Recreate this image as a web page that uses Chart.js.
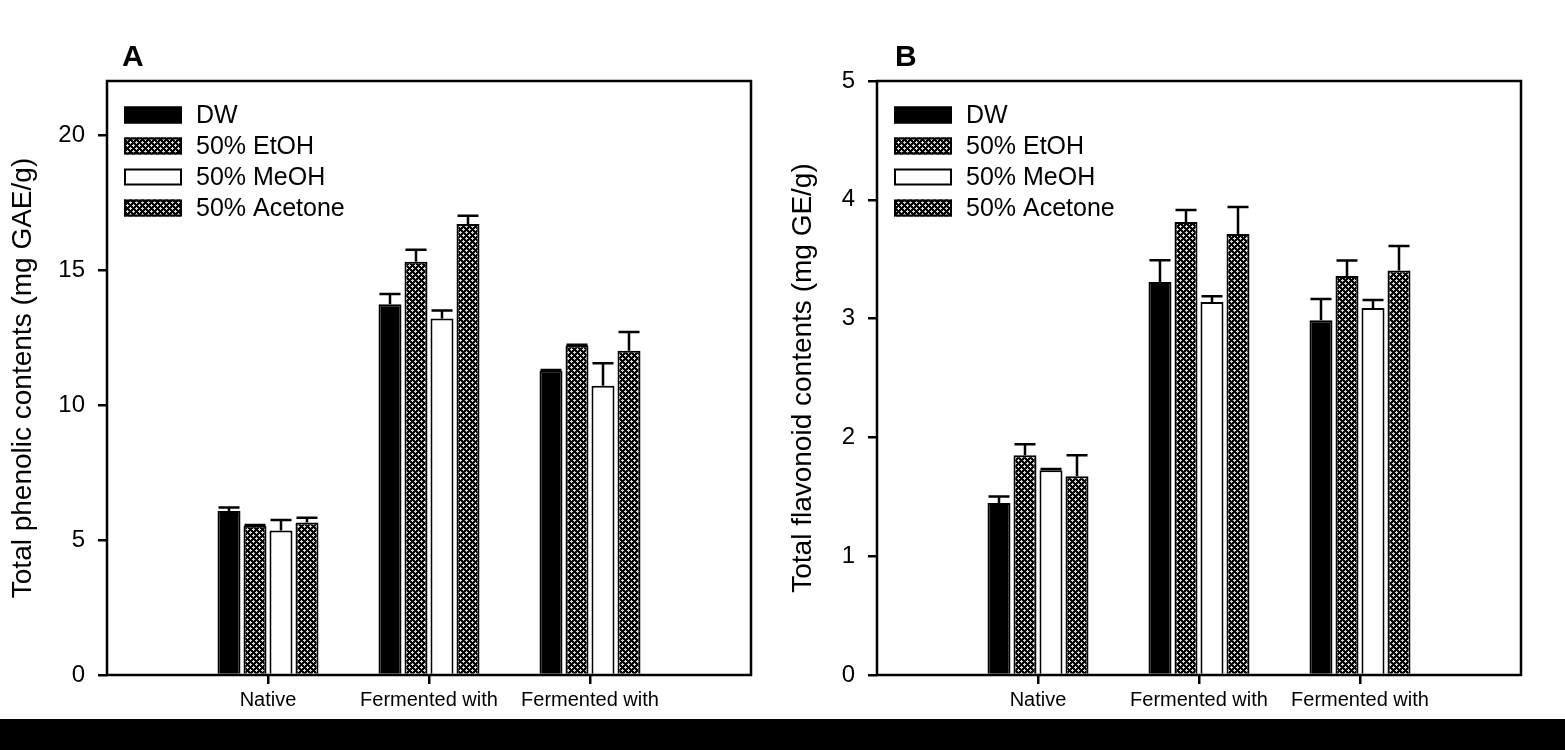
<!DOCTYPE html>
<html><head><meta charset="utf-8">
<script src="https://cdn.jsdelivr.net/npm/chart.js@4"></script>
<style>
html,body{margin:0;padding:0;background:#fff;width:1565px;height:750px;overflow:hidden}
#band{position:absolute;left:0;top:719px;width:1565px;height:31px;background:#000}
#ca{position:absolute;left:0;top:0}
#cb{position:absolute;left:780px;top:0}
</style></head><body>
<div id="band"></div>
<canvas id="ca" width="780" height="750"></canvas>
<canvas id="cb" width="785" height="750"></canvas>
<script>
// ---- data ----
const categories = [['Native','RG'],['Fermented with','A. awamori'],['Fermented with','A. oryzae']];
const seriesNames = ['DW','50% EtOH','50% MeOH','50% Acetone'];

const phenolicDW      = [6.07, 13.73, 11.27];
const phenolicEtOH    = [5.53, 15.31, 12.20];
const phenolicMeOH    = [5.35, 13.20, 10.71];
const phenolicAcetone = [5.65, 16.70, 12.01];
const phenolicErrDW      = [0.13, 0.38, 0.03];
const phenolicErrEtOH    = [0.03, 0.44, 0.03];
const phenolicErrMeOH    = [0.39, 0.30, 0.84];
const phenolicErrAcetone = [0.17, 0.31, 0.69];

const flavonoidDW      = [1.448, 3.308, 2.987];
const flavonoidEtOH    = [1.849, 3.814, 3.358];
const flavonoidMeOH    = [1.723, 3.139, 3.089];
const flavonoidAcetone = [1.672, 3.713, 3.404];
const flavonoidErrDW      = [0.055, 0.183, 0.177];
const flavonoidErrEtOH    = [0.093, 0.100, 0.132];
const flavonoidErrMeOH    = [0.010, 0.050, 0.067];
const flavonoidErrAcetone = [0.177, 0.227, 0.207];

const phenolicTicks = [0, 5, 10, 15, 20];
const flavonoidTicks = [0, 1, 2, 3, 4, 5];

// ---- styles ----
Chart.defaults.font.family = '"Liberation Sans", Arial, sans-serif';
Chart.defaults.color = '#000';

function makePattern() {
  const t = document.createElement('canvas');
  t.width = 6; t.height = 6;
  const c = t.getContext('2d');
  c.fillStyle = '#000'; c.fillRect(0, 0, 6, 6);
  c.fillStyle = '#d8d8d8';
  const pts = [[1,0],[0,1],[1,1],[2,1],[1,2],[4,3],[3,4],[4,4],[5,4],[4,5]];
  pts.forEach(p => c.fillRect(p[0], p[1], 1, 1));
  return c.createPattern(t, 'repeat');
}
const hatch = makePattern();
const fills = ['#000', hatch, '#fff', hatch];

const pad = arr => [null, ...arr, null];
const paddedLabels = ['', ...categories, ''];

const panelPlugin = {
  id: 'panel',
  afterDatasetsDraw(chart) {
    const ctx = chart.ctx;
    const errs = chart.options.plugins.panel.errors;
    ctx.save();
    ctx.strokeStyle = '#000';
    ctx.lineWidth = 2.5;
    chart.data.datasets.forEach((ds, di) => {
      const meta = chart.getDatasetMeta(di);
      meta.data.forEach((bar, i) => {
        const v = ds.data[i];
        if (v === null || v === undefined) return;
        const e = errs[di][i - 1];
        const yTop = chart.scales.y.getPixelForValue(v + e);
        const half = (bar.width - 2) / 2;
        ctx.beginPath();
        ctx.moveTo(bar.x, bar.y);
        ctx.lineTo(bar.x, yTop);
        ctx.moveTo(bar.x - half, yTop);
        ctx.lineTo(bar.x + half, yTop);
        ctx.stroke();
      });
    });
    ctx.restore();
  },
  afterDraw(chart) {
    const ctx = chart.ctx;
    const a = chart.chartArea;
    const o = chart.options.plugins.panel;
    ctx.save();
    // frame
    ctx.strokeStyle = '#000';
    ctx.lineWidth = 2.5;
    ctx.strokeRect(a.left, a.top, a.right - a.left, a.bottom - a.top);
    // panel letter
    ctx.fillStyle = '#000';
    ctx.font = 'bold 30px "Liberation Sans", Arial, sans-serif';
    ctx.textBaseline = 'alphabetic';
    ctx.textAlign = 'left';
    ctx.fillText(o.letter, a.left + o.letterDx, 66);
    // legend
    ctx.font = '25px "Liberation Sans", Arial, sans-serif';
    ctx.textBaseline = 'middle';
    chart.data.datasets.forEach((ds, i) => {
      const cy = a.top + 34 + i * 31;
      const x0 = a.left + 17;
      ctx.fillStyle = ds.backgroundColor;
      ctx.fillRect(x0, cy - 8.5, 58, 17);
      ctx.lineWidth = 2;
      ctx.strokeStyle = '#000';
      ctx.strokeRect(x0 + 1, cy - 7.5, 56, 15);
      ctx.fillStyle = '#000';
      ctx.fillText(ds.label, a.left + 89, cy + 1);
    });
    ctx.restore();
  }
};

function buildChart(canvasId, series, errors, tickVals, maxY, title, yWidth, rightPad, letter, letterDx) {
  const datasets = series.map((vals, i) => ({
    label: seriesNames[i],
    data: pad(vals),
    backgroundColor: fills[i],
    borderColor: '#000',
    borderWidth: 2,
    barPercentage: 0.885,
    categoryPercentage: 0.646
  }));
  return new Chart(document.getElementById(canvasId), {
    type: 'bar',
    data: { labels: paddedLabels, datasets },
    options: {
      responsive: false,
      animation: false,
      devicePixelRatio: 1,
      layout: { padding: { top: 81, right: rightPad, bottom: 0, left: 0 } },
      plugins: {
        legend: { display: false },
        tooltip: { enabled: false },
        panel: { errors, letter, letterDx }
      },
      scales: {
        x: {
          offset: false,
          border: { display: false },
          grid: {
            offset: false,
            drawOnChartArea: false, drawTicks: true, tickLength: 9,
            lineWidth: 2.5, tickWidth: 2.5,
            tickColor: c => (c.index === 0 || c.index === 4) ? 'rgba(0,0,0,0)' : '#000',
            color: 'rgba(0,0,0,0)'
          },
          ticks: { font: { size: 20, lineHeight: 1.4 }, padding: 2, color: '#000', maxRotation: 0, autoSkip: false },
          afterFit: s => { s.height = 75; }
        },
        y: {
          min: 0, max: maxY,
          border: { display: false },
          grid: {
            drawOnChartArea: false, drawTicks: true, tickLength: 9,
            lineWidth: 2.5, tickWidth: 2.5, tickColor: '#000', color: 'rgba(0,0,0,0)'
          },
          afterBuildTicks: s => { s.ticks = tickVals.map(v => ({ value: v })); },
          ticks: { font: { size: 24 }, padding: 13, color: '#000' },
          title: { display: true, text: title, font: { size: 28, lineHeight: 1.2 }, color: '#000', padding: { top: 6, bottom: 0 } },
          afterFit: s => { s.width = yWidth; }
        }
      }
    },
    plugins: [panelPlugin]
  });
}

buildChart('ca',
  [phenolicDW, phenolicEtOH, phenolicMeOH, phenolicAcetone],
  [phenolicErrDW, phenolicErrEtOH, phenolicErrMeOH, phenolicErrAcetone],
  phenolicTicks, 22, 'Total phenolic contents (mg GAE/g)', 107, 29, 'A', 15);

buildChart('cb',
  [flavonoidDW, flavonoidEtOH, flavonoidMeOH, flavonoidAcetone],
  [flavonoidErrDW, flavonoidErrEtOH, flavonoidErrMeOH, flavonoidErrAcetone],
  flavonoidTicks, 5, 'Total flavonoid contents (mg GE/g)', 97, 44, 'B', 18);
</script>
</body></html>
